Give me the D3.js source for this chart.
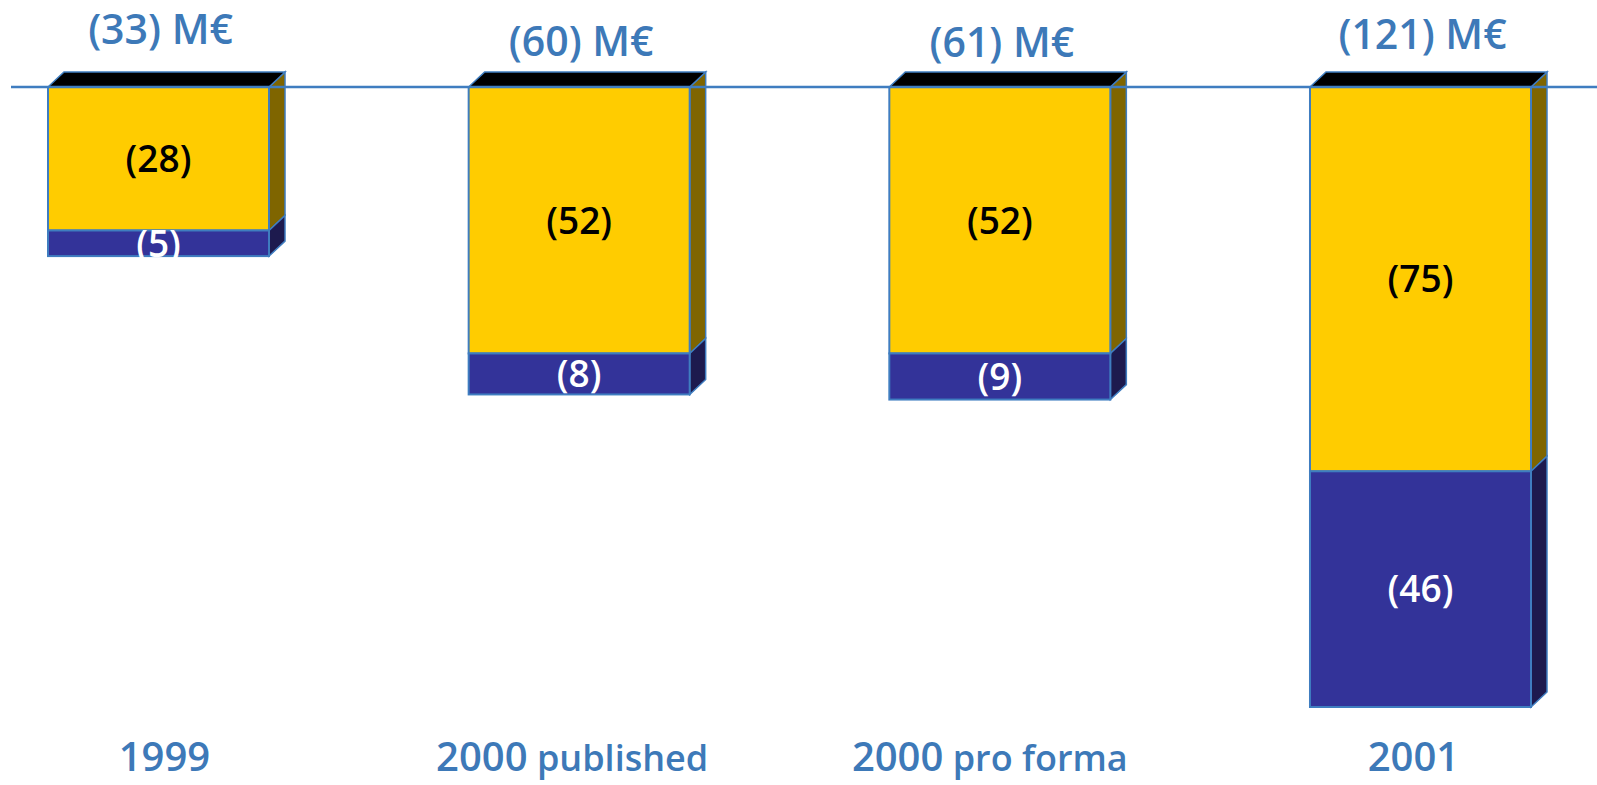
<!DOCTYPE html>
<html><head><meta charset="utf-8">
<script src="https://cdn.jsdelivr.net/npm/d3@7"></script>
<style>html,body{margin:0;padding:0;background:#fff;overflow:hidden}</style>
</head><body><svg id="c" width="1597" height="785"></svg>
<script>
const categories = ["1999", "2000 published", "2000 pro forma", "2001"];
const yearPart = ["1999", "2000", "2000", "2001"];
const suffixPart = ["", " published", " pro forma", ""];
const yellowValues = [28, 52, 52, 75];
const blueValues = [5, 8, 9, 46];
const totals = [33, 60, 61, 121];

const totalDy = [0, 12, 13, 5];
const catDx = [6, -7, -10, -7];
const depthX = 16, depthY = 15;
const blueText = "#3D79B8";
const stroke = "#3F7DC0";

const svg = d3.select("#c");
const x = d3.scaleBand().domain(categories).range([48, 1531]).paddingInner(0.4746).paddingOuter(0);
const y = d3.scaleLinear().domain([0, 121]).range([87, 707]);

const data = categories.map((c, i) => ({c, i, yel: yellowValues[i], blu: blueValues[i], tot: totals[i]}));
const bw = x.bandwidth();

const g = svg.append("g");
data.forEach(d => {
  const x0 = x(d.c), x1 = x0 + bw;
  const y0 = y(0), yMid = y(d.yel), yEnd = y(d.yel + d.blu);
  const gg = g.append("g");
  gg.append("path").attr("d", `M${x1},${y0}L${x1+depthX},${y0-depthY}L${x1+depthX},${yMid-depthY}L${x1},${yMid}Z`)
    .attr("fill", "#7F6500").attr("stroke", stroke).attr("stroke-width", 1.5);
  gg.append("path").attr("d", `M${x1},${yMid}L${x1+depthX},${yMid-depthY}L${x1+depthX},${yEnd-depthY}L${x1},${yEnd}Z`)
    .attr("fill", "#1D1A4E").attr("stroke", stroke).attr("stroke-width", 1.5);
  gg.append("path").attr("d", `M${x0},${y0}L${x0+depthX},${y0-depthY}L${x1+depthX},${y0-depthY}L${x1},${y0}Z`)
    .attr("fill", "#000").attr("stroke", stroke).attr("stroke-width", 1.5);
  gg.append("rect").attr("x", x0).attr("y", y0).attr("width", bw).attr("height", yMid - y0)
    .attr("fill", "#FFCC00").attr("stroke", stroke).attr("stroke-width", 2);
  gg.append("rect").attr("x", x0).attr("y", yMid).attr("width", bw).attr("height", yEnd - yMid)
    .attr("fill", "#333399").attr("stroke", stroke).attr("stroke-width", 2);
  gg.append("text").attr("x", x0 + bw/2).attr("y", (y0 + yMid)/2).attr("dy", "0.36em")
    .attr("text-anchor", "middle").attr("font-family", "'Open Sans', sans-serif").attr("font-weight", 600)
    .attr("font-size", 37).attr("fill", "#000").text(`(${d.yel})`);
  gg.append("text").attr("x", x0 + bw/2).attr("y", (yMid + yEnd)/2).attr("dy", "0.36em")
    .attr("text-anchor", "middle").attr("font-family", "'Open Sans', sans-serif").attr("font-weight", 600)
    .attr("font-size", 37).attr("fill", "#fff").text(`(${d.blu})`);
  svg.append("text").attr("x", x0 + bw/2 + 2).attr("y", 44 + totalDy[d.i])
    .attr("text-anchor", "middle").attr("font-family", "'Open Sans', sans-serif").attr("font-weight", 600)
    .attr("font-size", 41).attr("fill", blueText).text(`(${d.tot}) M€`);
  const t = svg.append("text").attr("x", x0 + bw/2 + catDx[d.i]).attr("y", 771)
    .attr("text-anchor", "middle").attr("font-family", "'Open Sans', sans-serif").attr("font-weight", 600)
    .attr("fill", blueText);
  t.append("tspan").attr("font-size", 40).text(yearPart[d.i]);
  if (suffixPart[d.i]) t.append("tspan").attr("font-size", 36).text(suffixPart[d.i]);
});

svg.append("line").attr("x1", 11).attr("x2", 1597).attr("y1", y(0)).attr("y2", y(0))
  .attr("stroke", stroke).attr("stroke-width", 2.5);
</script></body></html>
